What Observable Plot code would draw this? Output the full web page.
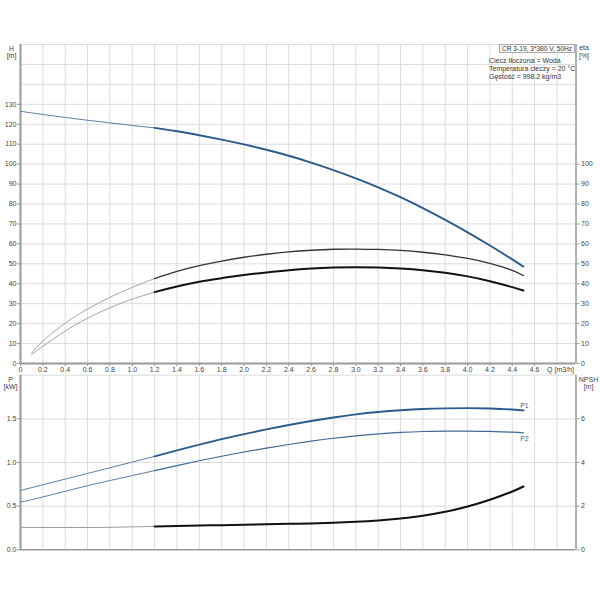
<!DOCTYPE html>
<html><head><meta charset="utf-8">
<script src="https://cdn.jsdelivr.net/npm/d3@7"></script>
<script src="https://cdn.jsdelivr.net/npm/@observablehq/plot@0.6"></script>
<style>
body{margin:0;background:#fff;font-family:"Liberation Sans",Arial,sans-serif;}
#wrap{position:relative;width:600px;height:600px;overflow:hidden;}
#topPanel{position:absolute;left:0;top:0;}
#botPanel{position:absolute;left:0;top:372px;}
.box{position:absolute;left:499px;top:44px;width:76px;height:9px;border:1px solid #aaa;background:#fff;font-size:6.6px;line-height:8px;color:#333;padding-left:2px;box-sizing:border-box;white-space:nowrap;}
.info{position:absolute;left:489px;top:57px;font-size:7px;line-height:8px;color:#333;white-space:nowrap;}
</style></head><body>
<div id="wrap">
<div id="topPanel"></div>
<div id="botPanel"></div>
<div class="box">CR 3-19, 3*380 V, 50Hz</div>
<div class="info">Ciecz tłoczona = Woda<br>Temperatura cieczy = 20 °C<br>Gęstość = 998.2 kg/m3</div>
</div>
<script>
// ---- data ----
const qSplit = 1.2;
const qH   = [0, 0.2, 0.4, 0.6, 0.8, 1.0, 1.2, 1.4, 1.6, 1.8, 2.0, 2.2, 2.4, 2.6, 2.8, 3.0, 3.2, 3.4, 3.6, 3.8, 4.0, 4.2, 4.4, 4.5];
const head = [126.5, 124.9, 123.4, 122.0, 120.7, 119.4, 118.2, 116.5, 114.5, 112.3, 109.9, 107.2, 104.2, 100.8, 97.0, 92.9, 88.4, 83.4, 77.9, 72.0, 65.8, 59.2, 52.2, 48.6];

const qEta = [0.1, 0.2, 0.4, 0.6, 0.8, 1.0, 1.2, 1.4, 1.6, 1.8, 2.0, 2.2, 2.4, 2.6, 2.8, 3.0, 3.2, 3.4, 3.6, 3.8, 4.0, 4.2, 4.4, 4.5];
const eta1 = [5.2, 11.3, 20.2, 27.3, 33.2, 38.2, 42.6, 46.2, 49.1, 51.4, 53.3, 54.8, 56.0, 56.8, 57.3, 57.4, 57.2, 56.7, 55.8, 54.5, 52.7, 50.2, 46.7, 44.0];
const eta2 = [4.5, 8.6, 16.3, 22.7, 28.0, 32.3, 35.8, 38.6, 41.0, 42.8, 44.4, 45.7, 46.8, 47.6, 48.1, 48.3, 48.1, 47.6, 46.8, 45.5, 43.7, 41.3, 38.3, 36.6];

const qP = [0, 0.2, 0.4, 0.6, 0.8, 1.0, 1.2, 1.4, 1.6, 1.8, 2.0, 2.2, 2.4, 2.6, 2.8, 3.0, 3.2, 3.4, 3.6, 3.8, 4.0, 4.2, 4.4, 4.5];
const p1 = [0.68, 0.745, 0.81, 0.875, 0.94, 1.005, 1.07, 1.139, 1.205, 1.267, 1.325, 1.379, 1.429, 1.475, 1.516, 1.551, 1.578, 1.598, 1.612, 1.62, 1.623, 1.619, 1.607, 1.597];
const p2 = [0.545, 0.605, 0.67, 0.735, 0.793, 0.85, 0.907, 0.965, 1.02, 1.072, 1.12, 1.165, 1.206, 1.244, 1.278, 1.306, 1.328, 1.344, 1.355, 1.36, 1.36, 1.356, 1.347, 1.34];
const npsh = [1.03, 1.02, 1.02, 1.02, 1.03, 1.05, 1.07, 1.09, 1.11, 1.13, 1.15, 1.17, 1.19, 1.21, 1.24, 1.28, 1.34, 1.43, 1.56, 1.74, 1.98, 2.29, 2.67, 2.9];

const qTicks   = [0, 0.2, 0.4, 0.6, 0.8, 1.0, 1.2, 1.4, 1.6, 1.8, 2.0, 2.2, 2.4, 2.6, 2.8, 3.0, 3.2, 3.4, 3.6, 3.8, 4.0, 4.2, 4.4, 4.6];
const qGrid    = [0.2, 0.4, 0.6, 0.8, 1.0, 1.2, 1.4, 1.6, 1.8, 2.0, 2.2, 2.4, 2.6, 2.8, 3.0, 3.2, 3.4, 3.6, 3.8, 4.0, 4.2, 4.4, 4.6, 4.8];
const hTicks   = [0, 10, 20, 30, 40, 50, 60, 70, 80, 90, 100, 110, 120, 130];
const hGrid    = [10, 20, 30, 40, 50, 60, 70, 80, 90, 100, 110, 120, 130, 140, 150, 160];
const etaTicks = [0, 10, 20, 30, 40, 50, 60, 70, 80, 90, 100];
const pTicks   = [0, 0.5, 1.0, 1.5];
const pGrid    = [0.5, 1.0, 1.5, 2.0];
const npshTicks = [0, 2, 4, 6];
const npshPerKw = 4;

const qMax = 4.97;
const font = '"Liberation Sans", Arial, sans-serif';
const gridColor = "#dcdcdc";
const axisColor = "#999";
const blue = "#2b5b8d";
const blueThin = "#5f7fa6";
const extGray = "#9a9a9a";

function rows(qs, vs) { return qs.map((q, i) => ({q, v: vs[i]})); }
const ext = r => r.filter(d => d.q <= qSplit);
const main = r => r.filter(d => d.q >= qSplit);

const Hr = rows(qH, head), E1 = rows(qEta, eta1), E2 = rows(qEta, eta2);
const P1 = rows(qP, p1), P2 = rows(qP, p2), NP = rows(qP, npsh.map(v => v / npshPerKw));

const fmtQ = d => d === 0 ? "0" : d.toFixed(1);

const topChart = Plot.plot({
  width: 600, height: 378,
  marginLeft: 20, marginRight: 600 - 20 - 555.5, marginTop: 44, marginBottom: 15,
  x: {domain: [0, qMax]},
  y: {domain: [0, 160]},
  style: {fontFamily: font, fontSize: "7px", color: "#444", background: "transparent", overflow: "visible"},
  marks: [
    Plot.gridX(qGrid, {stroke: gridColor, strokeOpacity: 1}),
    Plot.gridY(hGrid, {stroke: gridColor, strokeOpacity: 1}),
    Plot.axisX(qTicks, {tickSize: 3, tickPadding: 1, tickFormat: fmtQ, stroke: axisColor, label: null}),
    Plot.axisY(hTicks, {anchor: "left", tickSize: 3, tickPadding: 1, stroke: axisColor, label: null}),
    Plot.axisY(etaTicks, {anchor: "right", tickSize: 3, tickPadding: 2, stroke: axisColor, label: null}),
    Plot.ruleX([0], {stroke: axisColor, strokeWidth: 2}),
    Plot.ruleX([qMax], {stroke: axisColor, strokeWidth: 1.5}),
    Plot.ruleY([0], {stroke: axisColor, strokeWidth: 2}),
    Plot.line(ext(Hr), {x: "q", y: "v", stroke: blueThin, strokeWidth: 1, curve: "natural"}),
    Plot.line(main(Hr), {x: "q", y: "v", stroke: blue, strokeWidth: 1.9, curve: "natural"}),
    Plot.line(ext(E1), {x: "q", y: "v", stroke: extGray, strokeWidth: 0.9, curve: "natural"}),
    Plot.line(main(E1), {x: "q", y: "v", stroke: "#333", strokeWidth: 1.3, curve: "natural"}),
    Plot.line(ext(E2), {x: "q", y: "v", stroke: extGray, strokeWidth: 0.9, curve: "natural"}),
    Plot.line(main(E2), {x: "q", y: "v", stroke: "#111", strokeWidth: 2, curve: "natural"}),
    Plot.text(["H"], {frameAnchor: "top-left", textAnchor: "middle", lineAnchor: "middle", dx: -9, dy: 4.5}),
    Plot.text(["[m]"], {frameAnchor: "top-left", textAnchor: "middle", lineAnchor: "middle", dx: -9, dy: 11.5}),
    Plot.text(["eta"], {frameAnchor: "top-right", textAnchor: "middle", lineAnchor: "middle", dx: 8, dy: 3.5}),
    Plot.text(["[%]"], {frameAnchor: "top-right", textAnchor: "middle", lineAnchor: "middle", dx: 8, dy: 11}),
    Plot.text(["Q [m3/h]"], {frameAnchor: "bottom-right", textAnchor: "middle", lineAnchor: "middle", dx: -15.5, dy: 6.5})
  ]
});
document.getElementById("topPanel").append(topChart);

const botChart = Plot.plot({
  width: 600, height: 228,
  marginLeft: 20, marginRight: 600 - 20 - 555.5, marginTop: 2.7, marginBottom: 50.7,
  x: {domain: [0, qMax], axis: null},
  y: {domain: [0, 2]},
  style: {fontFamily: font, fontSize: "7px", color: "#444", background: "transparent", overflow: "visible"},
  marks: [
    Plot.gridX(qGrid, {stroke: gridColor, strokeOpacity: 1}),
    Plot.gridY(pGrid, {stroke: gridColor, strokeOpacity: 1}),
    Plot.axisY(pTicks, {anchor: "left", tickSize: 3, tickPadding: 1, stroke: axisColor, tickFormat: d => d.toFixed(1), label: null}),
    Plot.axisY(npshTicks.map(v => v / npshPerKw), {anchor: "right", tickSize: 3, tickPadding: 2, stroke: axisColor, tickFormat: d => String(Math.round(d * npshPerKw)), label: null}),
    Plot.ruleX([0], {stroke: axisColor, strokeWidth: 2}),
    Plot.ruleX([qMax], {stroke: axisColor, strokeWidth: 1.5}),
    Plot.ruleY([0], {stroke: axisColor, strokeWidth: 1.5}),
    Plot.line(ext(P1), {x: "q", y: "v", stroke: blueThin, strokeWidth: 1, curve: "natural"}),
    Plot.line(main(P1), {x: "q", y: "v", stroke: blue, strokeWidth: 1.9, curve: "natural"}),
    Plot.line(ext(P2), {x: "q", y: "v", stroke: blueThin, strokeWidth: 1, curve: "natural"}),
    Plot.line(main(P2), {x: "q", y: "v", stroke: "#3f6996", strokeWidth: 1.2, curve: "natural"}),
    Plot.line(ext(NP), {x: "q", y: "v", stroke: extGray, strokeWidth: 1, curve: "natural"}),
    Plot.line(main(NP), {x: "q", y: "v", stroke: "#111", strokeWidth: 2, curve: "natural"}),
    Plot.text(P1.slice(-1), {x: "q", y: "v", text: () => "P1", fill: "#3a6898", textAnchor: "middle", dx: 1, dy: -5}),
    Plot.text(P2.slice(-1), {x: "q", y: "v", text: () => "P2", fill: "#3a6898", textAnchor: "middle", dx: 1, dy: 5.5}),
    Plot.text(["P"], {frameAnchor: "top-left", textAnchor: "middle", lineAnchor: "middle", dx: -10, dy: 4.5}),
    Plot.text(["[kW]"], {frameAnchor: "top-left", textAnchor: "middle", lineAnchor: "middle", dx: -10, dy: 12}),
    Plot.text(["NPSH"], {frameAnchor: "top-right", textAnchor: "middle", lineAnchor: "middle", dx: 12.5, dy: 4.5}),
    Plot.text(["[m]"], {frameAnchor: "top-right", textAnchor: "middle", lineAnchor: "middle", dx: 12.5, dy: 12})
  ]
});
document.getElementById("botPanel").append(botChart);
</script>
</body></html>
